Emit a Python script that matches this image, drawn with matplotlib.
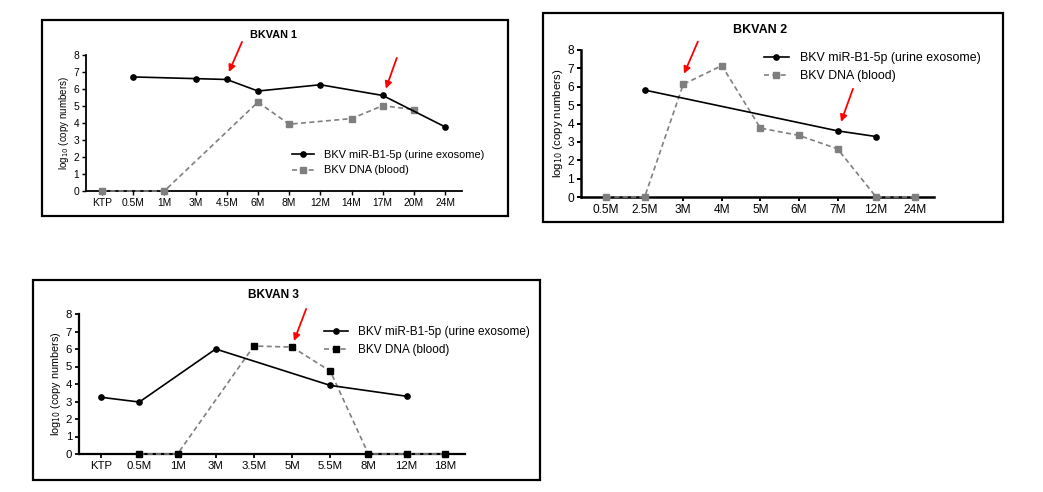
import matplotlib
matplotlib.use("Agg")
import matplotlib.pyplot as plt
from matplotlib.patches import Rectangle

plt.rcParams['font.family'] = ['Liberation Sans', 'DejaVu Sans']

W, H = 1043, 492

# ---------------- data ----------------
p1_labels = ["KTP", "0.5M", "1M", "3M", "4.5M", "6M", "8M", "12M", "14M", "17M", "20M", "24M"]
p1_mir = [None, 6.71, None, 6.61, 6.56, 5.88, None, 6.25, None, 5.62, None, 3.77]
p1_dna = [0.0, None, 0.0, None, None, 5.23, 3.93, None, 4.26, 5.02, 4.79, None]

p2_labels = ["0.5M", "2.5M", "3M", "4M", "5M", "6M", "7M", "12M", "24M"]
p2_mir = [None, 5.82, None, None, None, None, 3.6, 3.29, None]
p2_dna = [0.0, 0.0, 6.13, 7.15, 3.75, 3.35, 2.62, 0.0, 0.0]

p3_labels = ["KTP", "0.5M", "1M", "3M", "3.5M", "5M", "5.5M", "8M", "12M", "18M"]
p3_mir = [3.24, 2.97, None, 6.0, None, None, 3.92, None, 3.3, None]
p3_dna = [None, 0.0, 0.0, None, 6.17, 6.11, 4.74, 0.0, 0.0, 0.0]

mir_label = "BKV miR-B1-5p (urine exosome)"
dna_label = "BKV DNA (blood)"

fig = plt.figure(figsize=(W / 100, H / 100), dpi=100)


def fx(px):
    return px / W


def fy(py):
    return 1 - py / H


def frame(x0, y0, x1, y1, lw=1.6):
    fig.patches.append(Rectangle((fx(x0), fy(y1)), fx(x1) - fx(x0), fy(y0) - fy(y1),
                                 transform=fig.transFigure, fill=False,
                                 edgecolor='black', linewidth=lw))


def pts(vals):
    xs = [i for i, v in enumerate(vals) if v is not None]
    ys = [v for v in vals if v is not None]
    return xs, ys


def panel(box, xlim, labels, mir, dna, fs, lfs, dna_mfc, arrows, title, title_xy,
          leg_xy, lw_spine):
    l, r, b, t = box
    ax = fig.add_axes([fx(l), fy(b), fx(r) - fx(l), fy(t) - fy(b)])
    xs, ys = pts(mir)
    ax.plot(xs, ys, color='black', lw=1.2, marker='o', ms=3.8, label=mir_label,
            clip_on=False, zorder=4)
    xs, ys = pts(dna)
    ax.plot(xs, ys, color='#7f7f7f', lw=1.2, ls=(0, (3, 2)), marker='s', ms=4.2,
            mfc=dna_mfc, mec=dna_mfc, label=dna_label, clip_on=False, zorder=3)
    ax.set_xlim(*xlim)
    ax.set_ylim(0, 8)
    ax.set_yticks(range(0, 9))
    ax.set_xticks(range(len(labels)))
    ax.set_xticklabels(labels)
    for s in ['top', 'right']:
        ax.spines[s].set_visible(False)
    for s in ['left', 'bottom']:
        ax.spines[s].set_linewidth(lw_spine)
    ax.tick_params(axis='both', labelsize=fs, width=lw_spine * 0.8, length=3,
                   pad=2, colors='black')
    ax.set_ylabel("log$_{10}$ (copy numbers)", fontsize=fs - 0.4, labelpad=2)
    for (hx, hy, tx, ty) in arrows:
        ax.annotate("", xy=(hx, hy), xytext=(tx, ty), annotation_clip=False,
                    arrowprops=dict(arrowstyle='-|>', color='red', lw=1.3,
                                    mutation_scale=10, shrinkA=0, shrinkB=0))
    fig.text(fx(title_xy[0]), fy(title_xy[1]), title, fontsize=fs + 0.4,
             fontweight='bold', ha='center', va='center')
    ax.legend(loc='upper left', bbox_to_anchor=(fx(leg_xy[0]), fy(leg_xy[1])),
              bbox_transform=fig.transFigure, frameon=False, fontsize=lfs,
              borderpad=0, borderaxespad=0, handlelength=2.0, handletextpad=0.9,
              labelspacing=0.5)
    return ax


# Panel 1
frame(42, 20, 508, 216)
panel((86, 462, 191, 55), (-0.51, 11.54), p1_labels, p1_mir, p1_dna, 7.4, 7.9,
      '#7f7f7f',
      [(4.07, 7.0, 4.49, 8.77), (9.1, 6.02, 9.45, 7.83)],
      "BKVAN 1", (273, 35), (292, 150), 1.3)

# Panel 2
frame(543, 13, 1003, 222)
panel((581, 934, 197, 50), (-0.65, 8.5), p2_labels, p2_mir, p2_dna, 8.6, 8.9,
      '#7f7f7f',
      [(2.02, 6.71, 2.38, 8.46), (6.09, 4.09, 6.4, 5.89)],
      "BKVAN 2", (760, 30), (764, 52), 1.8)

# Panel 3
frame(33, 280, 540, 480)
panel((79, 465, 454, 314), (-0.58, 9.53), p3_labels, p3_mir, p3_dna, 8.2, 8.5,
      'black',
      [(5.05, 6.46, 5.37, 8.29)],
      "BKVAN 3", (273, 295), (324, 326), 1.6)

fig.savefig("out.png", dpi=100)
